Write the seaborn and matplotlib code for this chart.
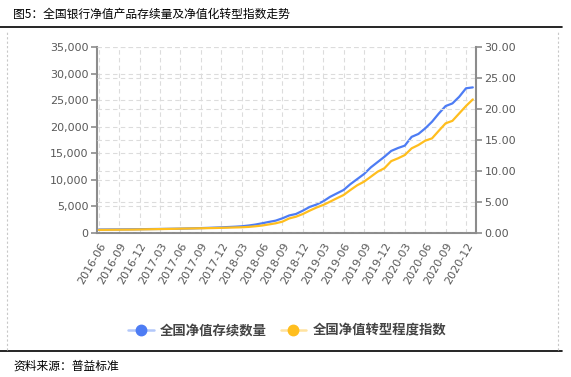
import numpy as np
import pandas as pd
import seaborn as sns
import matplotlib.pyplot as plt
from matplotlib.lines import Line2D
from matplotlib.ticker import FuncFormatter, MultipleLocator

# monthly data, 2016-06 .. 2021-01
MONTHS = pd.period_range("2016-06", "2021-01", freq="M").strftime("%Y-%m").tolist()

# 全国净值存续数量 (left axis)
PRODUCT_COUNT = [
    650, 660, 670, 680, 690, 700, 715, 730, 745, 760,
    780, 800, 820, 850, 880, 920, 960, 1010, 1060, 1120,
    1180, 1260, 1400, 1580, 1820, 2080, 2320, 2760, 3300, 3580,
    4200, 4900, 5350, 5960, 6800, 7450, 8100, 9200, 10150, 11100,
    12350, 13350, 14350, 15450, 16000, 16450, 18100, 18650, 19700, 20950,
    22500, 23900, 24400, 25650, 27250, 27420,
]

# 全国净值转型程度指数 (right axis)
TRANSITION_INDEX = [
    0.50, 0.51, 0.52, 0.53, 0.54, 0.55, 0.57, 0.59, 0.61, 0.63,
    0.65, 0.67, 0.70, 0.72, 0.74, 0.76, 0.78, 0.80, 0.83, 0.86,
    0.89, 0.92, 0.98, 1.08, 1.20, 1.38, 1.56, 1.83, 2.35, 2.63,
    3.06, 3.60, 4.10, 4.52, 5.05, 5.60, 6.13, 6.94, 7.70, 8.28,
    9.08, 9.89, 10.45, 11.60, 12.05, 12.58, 13.66, 14.20, 14.90, 15.27,
    16.50, 17.70, 18.10, 19.30, 20.50, 21.56,
]

TITLE = "图5：全国银行净值产品存续量及净值化转型指数走势"
SOURCE = "资料来源：普益标准"
LABEL_COUNT = "全国净值存续数量"
LABEL_INDEX = "全国净值转型程度指数"

BLUE = "#4D7CF4"
BLUE_LIGHT = "#b3c8fa"
ORANGE = "#FFBE1E"
ORANGE_LIGHT = "#ffe3a0"
AXIS_GRAY = "#8c8c8c"
TEXT_GRAY = "#595959"
GRID_GRAY = "#dcdcdc"

sns.set_theme(style="white")
plt.rcParams["font.family"] = ["Noto Sans CJK SC", "DejaVu Sans"]

df = pd.DataFrame({
    "idx": np.arange(len(MONTHS)),
    "month": MONTHS,
    "count": PRODUCT_COUNT,
    "index": TRANSITION_INDEX,
})

fig = plt.figure(figsize=(5.71, 3.77), dpi=100)
ax = fig.add_axes([0.170, 0.382, 0.664, 0.493])
ax2 = ax.twinx()

sns.lineplot(data=df, x="idx", y="count", ax=ax, color=BLUE, linewidth=1.6, zorder=3)
sns.lineplot(data=df, x="idx", y="index", ax=ax2, color=ORANGE, linewidth=1.6, zorder=3)

ax.set_xlim(-0.25, 55.5)
ax.set_ylim(0, 35000)
ax2.set_ylim(0, 30)

tick_pos = df["idx"].iloc[::3].tolist()
ax.set_xticks(tick_pos)
ax.set_xticklabels(df["month"].iloc[::3], rotation=60, ha="right",
                   rotation_mode="anchor", family="DejaVu Sans")

ax.yaxis.set_major_locator(MultipleLocator(5000))
ax.yaxis.set_major_formatter(FuncFormatter(lambda v, _: f"{v:,.0f}"))
ax2.yaxis.set_major_locator(MultipleLocator(5))
ax2.yaxis.set_major_formatter(FuncFormatter(lambda v, _: f"{v:.2f}"))

for a in (ax, ax2):
    a.set_xlabel("")
    a.set_ylabel("")
    for side in ("top", "right", "left", "bottom"):
        a.spines[side].set_visible(False)
    a.tick_params(axis="both", direction="out", length=4, width=1.2,
                  color=AXIS_GRAY, labelcolor=TEXT_GRAY, labelsize=8, pad=2)
    for lbl in a.get_yticklabels():
        lbl.set_family("DejaVu Sans")

ax.spines["left"].set_visible(True)
ax.spines["bottom"].set_visible(True)
ax2.spines["right"].set_visible(True)
for sp in (ax.spines["left"], ax.spines["bottom"], ax2.spines["right"]):
    sp.set_color(AXIS_GRAY)
    sp.set_linewidth(1.5)

# dashed grid: vertical at ticks, horizontal for both y scales
ax.grid(True, axis="both", linestyle=(0, (4, 3)), color=GRID_GRAY, linewidth=0.8)
ax2.grid(True, axis="y", linestyle=(0, (4, 3)), color=GRID_GRAY, linewidth=0.8)
ax.set_axisbelow(True)
ax2.set_axisbelow(True)
ax2.set_zorder(ax.get_zorder() + 1)
ax2.patch.set_visible(False)

# legend: faded line with a solid dot
handles = [
    Line2D([0], [0], color=BLUE_LIGHT, linewidth=1.8, marker="o", markersize=7.5,
           markerfacecolor=BLUE, markeredgecolor=BLUE),
    Line2D([0], [0], color=ORANGE_LIGHT, linewidth=1.8, marker="o", markersize=7.5,
           markerfacecolor=ORANGE, markeredgecolor=ORANGE),
]
leg = fig.legend(handles, [LABEL_COUNT, LABEL_INDEX], loc="center",
                 bbox_to_anchor=(0.503, 0.124), ncol=2, frameon=False,
                 fontsize=9.6, handlelength=1.9, columnspacing=1.0,
                 handletextpad=0.5)
for t in leg.get_texts():
    t.set_color("#444444")
    t.set_fontweight("bold")

# frame elements
fig.text(0.023, 0.963, TITLE, fontsize=8.5, color="black", va="center", ha="left")
fig.text(0.023, 0.029, SOURCE, fontsize=8.5, color="black", va="center", ha="left")
fig.add_artist(Line2D([0.0, 0.985], [0.928, 0.928], color="black", linewidth=1.2,
                      transform=fig.transFigure))
fig.add_artist(Line2D([0.0, 0.985], [0.069, 0.069], color="black", linewidth=1.2,
                      transform=fig.transFigure))
for xf in (0.012, 0.977):
    fig.add_artist(Line2D([xf, xf], [0.071, 0.918], color="#c8c8c8", linewidth=0.8,
                          linestyle=(0, (2, 2)), transform=fig.transFigure))

fig.savefig("out.png", dpi=100)
